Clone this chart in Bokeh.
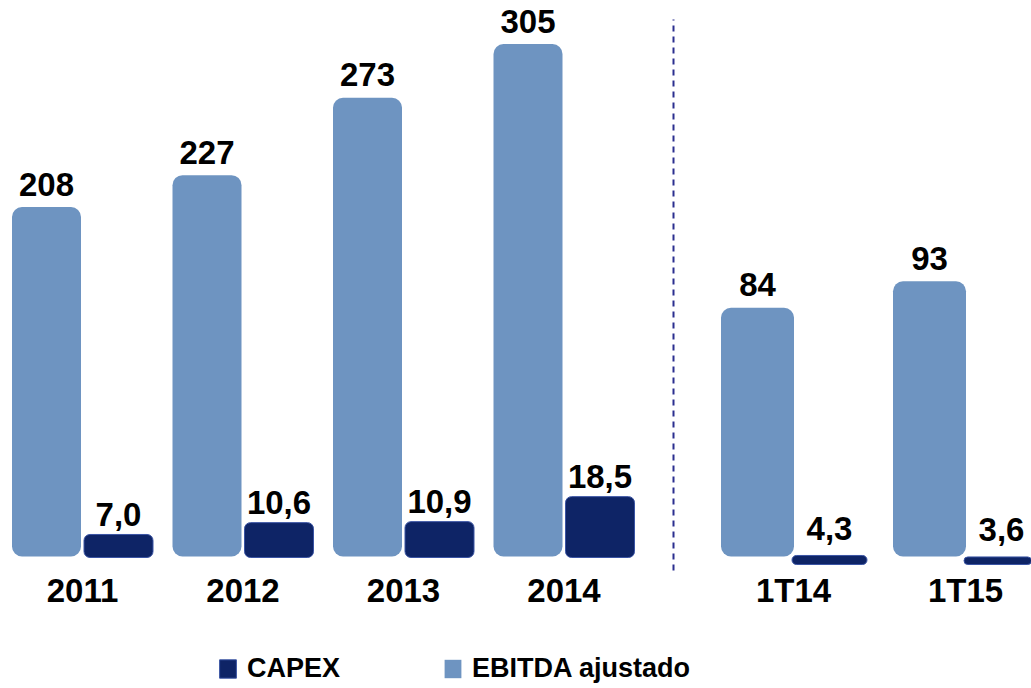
from bokeh.plotting import figure
from bokeh.models import Range1d, ColumnDataSource, Legend, LegendItem
from bokeh.core.properties import value
from bokeh.embed import file_html
from bokeh.resources import INLINE

# ---------------- data ----------------
categories = ["2011", "2012", "2013", "2014", "1T14", "1T15"]
ebitda = [208, 227, 273, 305, 84, 93]
capex = [7.0, 10.6, 10.9, 18.5, 4.3, 3.6]
ebitda_labels = ["208", "227", "273", "305", "84", "93"]
capex_labels = ["7,0", "10,6", "10,9", "18,5", "4,3", "3,6"]
n_annual = 4  # first four are years, last two are quarters

# ---------------- layout ----------------
W, H = 1031, 688
FRAME_TOP, FRAME_BOTTOM = 0, H        # screen px of the frame
EB_COLOR = "#6E94C1"
CX_COLOR = "#0E2466"
FONT = "Liberation Sans"

def yrange(baseline_px, px_per_unit):
    start = -(FRAME_BOTTOM - baseline_px) / px_per_unit
    return Range1d(start, start + H / px_per_unit)

# scales (px per unit) of the four bar series
EB_A_BASE, EB_A_SCALE = 556, 1.68
EB_Q_BASE, EB_Q_SCALE = 556, 2.96
CX_A_BASE, CX_A_SCALE = 557, 3.29
CX_Q_BASE, CX_Q_SCALE = 564, 2.1

# x positions (screen px) from index
def xs_annual(i):
    eb = 46 + 160.5 * i
    return eb, eb + 72

def xs_quarter(j):
    eb = 757 + 172 * j
    return eb, eb + 72

p = figure(width=W, height=H, output_backend="svg", toolbar_location=None,
           x_range=Range1d(0, W), y_range=yrange(EB_A_BASE, EB_A_SCALE),
           x_axis_type=None, y_axis_type=None, min_border=0,
           outline_line_color=None, background_fill_color="white",
           border_fill_color="white")
p.grid.visible = False
p.extra_y_ranges = {
    "eb_q": yrange(EB_Q_BASE, EB_Q_SCALE),
    "cx_a": yrange(CX_A_BASE, CX_A_SCALE),
    "cx_q": yrange(CX_Q_BASE, CX_Q_SCALE),
}

groups = [
    ("default", "cx_a", list(range(n_annual)), xs_annual, 69, 69, -20),
    ("eb_q", "cx_q", list(range(n_annual, len(categories))), xs_quarter, 73, 75, -27),
]

legend_renderers = {}
for eb_rng, cx_rng, idx, xfun, eb_w, cx_w, cx_off in groups:
    ebx = [xfun(k)[0] for k in range(len(idx))]
    cxx = [xfun(k)[1] for k in range(len(idx))]
    src = ColumnDataSource(dict(
        ebx=ebx, cxx=cxx, mid=[(a + b) / 2 for a, b in zip(ebx, cxx)],
        eb=[ebitda[i] for i in idx], cx=[capex[i] for i in idx],
        ebl=[ebitda_labels[i] for i in idx], cxl=[capex_labels[i] for i in idx],
        cat=[categories[i] for i in idx], zero=[0] * len(idx)))
    r_eb = p.vbar(x="ebx", top="eb", bottom=0, width=eb_w, source=src,
                  y_range_name=eb_rng, fill_color=EB_COLOR, line_color=None,
                  border_radius=10)
    r_cx = p.vbar(x="cxx", top="cx", bottom=0, width=cx_w, source=src,
                  y_range_name=cx_rng, fill_color=CX_COLOR, line_color="#3A54A4",
                  line_width=1, border_radius=6)
    legend_renderers.setdefault("eb", r_eb)
    legend_renderers.setdefault("cx", r_cx)
    p.text(x="ebx", y="eb", text="ebl", source=src, y_range_name=eb_rng,
           y_offset=-23, text_align="center", text_baseline="alphabetic",
           text_font=value(FONT), text_font_style="bold", text_font_size="33px",
           text_color="black")
    p.text(x="cxx", y="cx", text="cxl", source=src, y_range_name=cx_rng,
           y_offset=cx_off, text_align="center", text_baseline="alphabetic",
           text_font=value(FONT), text_font_style="bold", text_font_size="33px",
           text_color="black")
    p.text(x="mid", y="zero", text="cat", source=src, y_range_name=eb_rng,
           y_offset=34, text_align="center", text_baseline="alphabetic",
           text_font=value(FONT), text_font_style="bold", text_font_size="33px",
           text_color="black")

# dashed separator
SEP_X, SEP_TOP, SEP_BOTTOM = 673, 19, 570
to_val = lambda px: (EB_A_BASE - px) / EB_A_SCALE
p.segment(x0=[SEP_X], y0=[to_val(SEP_BOTTOM)], x1=[SEP_X], y1=[to_val(SEP_TOP)],
          line_color="#2B2E8F", line_width=2, line_dash="6 5")

legend = Legend(items=[
    LegendItem(label="CAPEX", renderers=[legend_renderers["cx"]]),
    LegendItem(label="EBITDA ajustado", renderers=[legend_renderers["eb"]]),
], orientation="horizontal", location=(217, 4), padding=0, margin=0,
    spacing=102, glyph_width=21, glyph_height=23, label_standoff=9,
    label_text_font=FONT, label_text_font_style="bold",
    label_text_font_size="27px", label_text_color="black",
    background_fill_alpha=0, border_line_color=None)
p.add_layout(legend)

open("out.html", "w").write(file_html(p, INLINE))
